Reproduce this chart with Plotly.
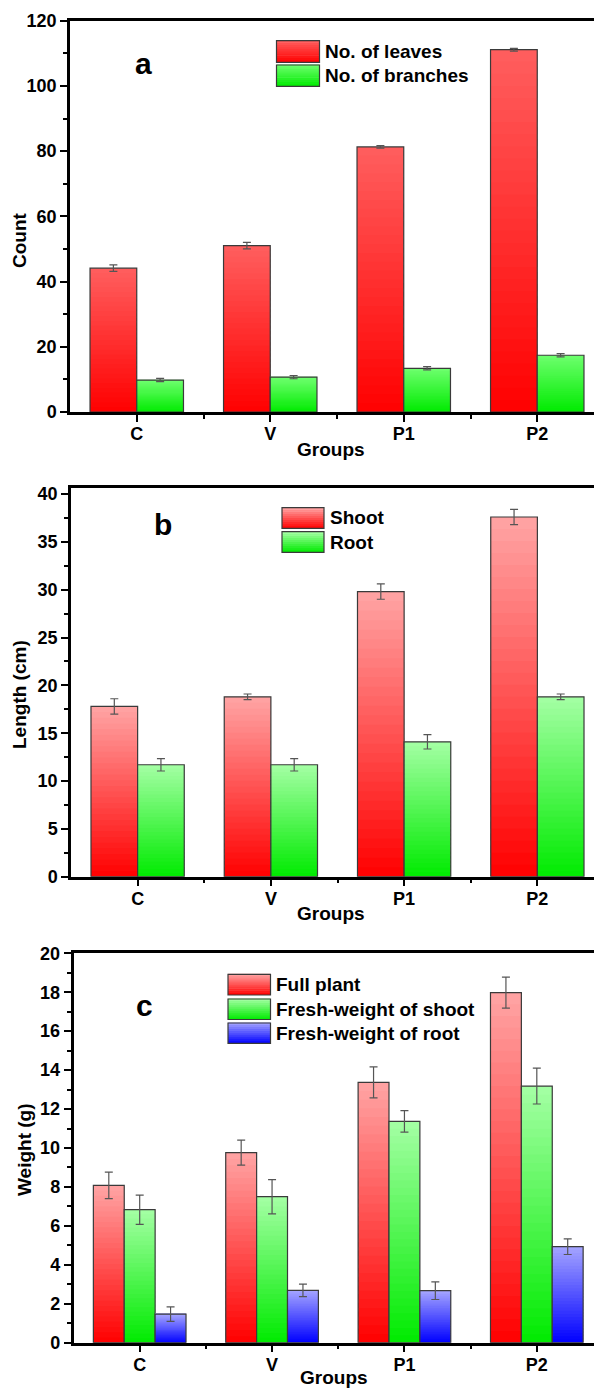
import plotly.graph_objects as go

# ---------------- data ----------------
groups = ["C", "V", "P1", "P2"]

leaves = [44.1, 51.0, 81.3, 111.1]
leaves_err = [1.0, 1.0, 0.4, 0.4]
branches = [9.8, 10.7, 13.4, 17.4]
branches_err = [0.5, 0.5, 0.5, 0.5]

shoot_len = [17.8, 18.8, 29.8, 37.6]
shoot_len_err = [0.8, 0.3, 0.8, 0.8]
root_len = [11.7, 11.7, 14.1, 18.8]
root_len_err = [0.65, 0.65, 0.75, 0.3]

full_w = [8.08, 9.76, 13.37, 17.98]
full_w_err = [0.68, 0.64, 0.80, 0.80]
shoot_w = [6.83, 7.50, 11.37, 13.18]
shoot_w_err = [0.75, 0.88, 0.55, 0.92]
root_w = [1.47, 2.69, 2.67, 4.93]
root_w_err = [0.37, 0.32, 0.45, 0.40]

W, H = 602, 1389
OFF = 8  # page body margin: figure is drawn 8px right/down in the window
FONT = "Liberation Sans, Arial, sans-serif"
N_SLICES = 30

xpos = list(range(len(groups)))


def lerp(c0, c1, t):
    return "rgb(%d,%d,%d)" % tuple(round(a + (b - a) * t) for a, b in zip(c0, c1))


fig = go.Figure()


def add_series(name, vals, errs, c_bottom, c_top, xa, ya):
    # vertical gradient drawn as thin stacked slices of each bar
    for i in range(N_SLICES):
        t = (i + 0.5) / N_SLICES
        top_frac = min(i + 1.6, N_SLICES)
        fig.add_trace(go.Bar(
            x=xpos, y=[v * (top_frac - i) / N_SLICES for v in vals],
            base=[v * i / N_SLICES for v in vals],
            offsetgroup=name, xaxis=xa, yaxis=ya,
            marker=dict(color=lerp(c_bottom, c_top, t), line=dict(width=0)),
            showlegend=False, hoverinfo="skip"))
    # outline + error bars
    fig.add_trace(go.Bar(
        x=xpos, y=vals, name=name, offsetgroup=name, xaxis=xa, yaxis=ya,
        marker=dict(color="rgba(0,0,0,0)", line=dict(color="#3a3a3a", width=1.2)),
        error_y=dict(type="data", array=errs, color="#555555", thickness=1.2, width=4),
        showlegend=False))


RED0, RED_A, RED_L = (255, 0, 0), (255, 95, 95), (255, 165, 165)
GRN0, GRN_A, GRN_L = (0, 235, 0), (110, 255, 110), (165, 255, 165)
BLU0, BLU_L = (0, 0, 255), (165, 165, 255)

add_series("No. of leaves", leaves, leaves_err, RED0, RED_A, "x", "y")
add_series("No. of branches", branches, branches_err, GRN0, GRN_A, "x", "y")
add_series("Shoot", shoot_len, shoot_len_err, RED0, RED_L, "x2", "y2")
add_series("Root", root_len, root_len_err, GRN0, GRN_L, "x2", "y2")
add_series("Full plant", full_w, full_w_err, RED0, RED_L, "x3", "y3")
add_series("Fresh-weight of shoot", shoot_w, shoot_w_err, GRN0, GRN_L, "x3", "y3")
add_series("Fresh-weight of root", root_w, root_w_err, BLU0, BLU_L, "x3", "y3")


def fx(px):  # screen px -> paper fraction
    return (px - OFF) / W


def fy(py):
    return 1 - (py - OFF) / H


tickfont = dict(family=FONT, size=18, color="black", weight="bold")
titlefont = dict(family=FONT, size=19, color="black", weight="bold")


def xaxis(left_px, right_px, anchor):
    return dict(
        domain=[fx(left_px), min(1, fx(right_px))], anchor=anchor,
        range=[-0.5, 3.5],
        tickmode="array", tickvals=xpos, ticktext=groups,
        showline=True, linecolor="black", linewidth=2.5, mirror=True,
        ticks="outside", ticklen=7, tickwidth=2, tickcolor="black",
        ticklabelstandoff=-3,
        minor=dict(tickmode="array", tickvals=[0.5, 1.5, 2.5], ticks="outside",
                   ticklen=4, tickwidth=2, tickcolor="black"),
        showgrid=False, zeroline=False, tickfont=tickfont,
        automargin=False, fixedrange=True)


def yaxis(top_px, bot_px, rng, dtick, anchor):
    return dict(
        domain=[fy(bot_px), fy(top_px)], anchor=anchor, range=rng,
        tick0=0, dtick=dtick,
        showline=True, linecolor="black", linewidth=2.5, mirror=False,
        ticks="outside", ticklen=7, tickwidth=2, tickcolor="black",
        minor=dict(dtick=dtick / 2, ticks="outside", ticklen=4, tickwidth=2,
                   tickcolor="black"),
        showgrid=False, zeroline=False, tickfont=tickfont,
        automargin=False, fixedrange=True)


layout = dict(
    width=W, height=H, margin=dict(l=0, r=0, t=0, b=0),
    paper_bgcolor="white", plot_bgcolor="white",
    barmode="group", bargap=0.3, bargroupgap=0,
    showlegend=False,
    xaxis=xaxis(70, 604, "y"),
    yaxis=yaxis(20.7, 412, [0, 120], 20, "x"),
    xaxis2=xaxis(71, 604, "y2"),
    yaxis2=yaxis(488.3, 876.7, [0, 40.6], 5, "x2"),
    xaxis3=xaxis(73.5, 603, "y3"),
    yaxis3=yaxis(953.3, 1342.7, [0, 20], 2, "x3"),
)
fig.update_layout(**layout)

# ---------------- custom legends, axis titles & panel letters ----------------
shapes = []
annotations = []


def swatch(x0, x1, y0, y1, c_bottom, c_top, label, text_x):
    n = 10
    for i in range(n):
        ya = y1 - (y1 - y0) * i / n
        yb = y1 - (y1 - y0) * (i + 1) / n
        shapes.append(dict(type="rect", xref="paper", yref="paper",
                           x0=fx(x0), x1=fx(x1), y0=fy(ya), y1=fy(yb - 0.6),
                           fillcolor=lerp(c_bottom, c_top, (i + 0.5) / n),
                           line=dict(width=0), layer="above"))
    shapes.append(dict(type="rect", xref="paper", yref="paper",
                       x0=fx(x0), x1=fx(x1), y0=fy(y1), y1=fy(y0),
                       fillcolor="rgba(0,0,0,0)",
                       line=dict(color="#3a3a3a", width=1.2), layer="above"))
    annotations.append(dict(text=label, x=fx(text_x), y=fy((y0 + y1) / 2),
                            xref="paper", yref="paper", xanchor="left",
                            yanchor="middle", showarrow=False,
                            font=dict(family=FONT, size=19, color="black",
                                      weight="bold")))


swatch(276.5, 319.5, 40.7, 62.3, RED0, RED_A, "No. of leaves", 323)
swatch(276.5, 319.5, 65.0, 86.3, GRN0, GRN_A, "No. of branches", 323)

swatch(282, 324, 507.7, 528.3, RED0, RED_L, "Shoot", 328)
swatch(282, 324, 531.7, 552.3, GRN0, GRN_L, "Root", 328)

swatch(228, 270.5, 974.3, 995, RED0, RED_L, "Full plant", 274)
swatch(228, 270.5, 999, 1019.5, GRN0, GRN_L, "Fresh-weight of shoot", 274)
swatch(228, 270.5, 1023, 1043.3, BLU0, BLU_L, "Fresh-weight of root", 274)

for title, cx, cy in [("Count", 20, 240), ("Length (cm)", 19, 695),
                      ("Weight (g)", 24, 1150)]:
    annotations.append(dict(text=title, x=fx(cx), y=fy(cy), xref="paper",
                            yref="paper", xanchor="center", yanchor="middle",
                            textangle=-90, showarrow=False, font=titlefont))

for cx, cy in [(331, 450), (331, 913), (334, 1377)]:
    annotations.append(dict(text="Groups", x=fx(cx), y=fy(cy), xref="paper",
                            yref="paper", xanchor="center", yanchor="middle",
                            showarrow=False, font=titlefont))

for letter, cx, cy in [("a", 143, 64), ("b", 163, 525), ("c", 144, 1005)]:
    annotations.append(dict(text=letter, x=fx(cx), y=fy(cy), xref="paper",
                            yref="paper", xanchor="center", yanchor="middle",
                            showarrow=False,
                            font=dict(family=FONT, size=30, color="black",
                                      weight="bold")))

fig.update_layout(shapes=shapes, annotations=annotations)
fig.write_html("out.html")
